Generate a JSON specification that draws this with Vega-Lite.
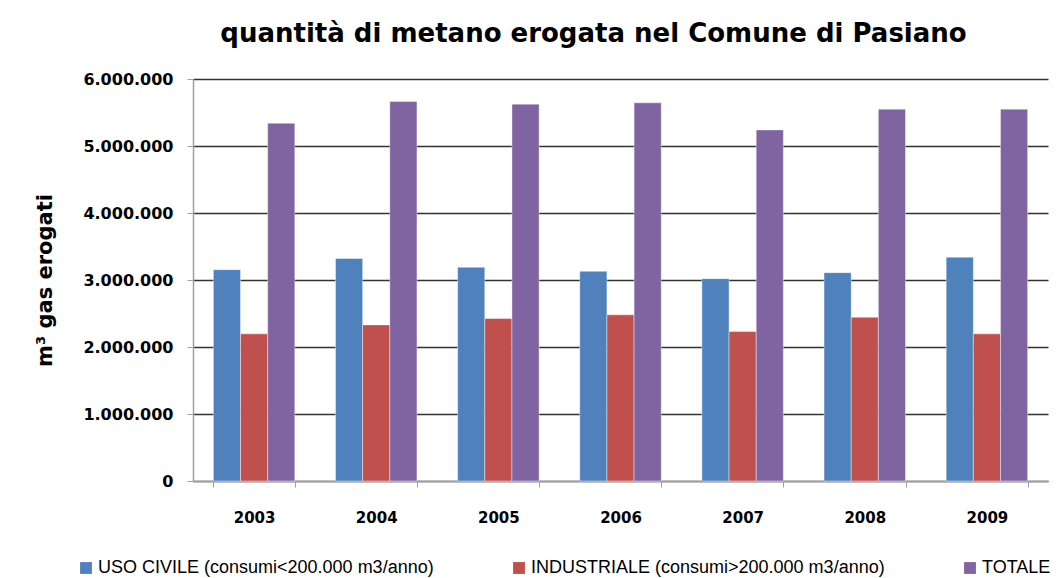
{
  "$schema": "https://vega.github.io/schema/vega-lite/v6.json",
  "width": 855,
  "height": 402,
  "autosize": {"type": "none"},
  "padding": {"left": 193, "top": 79, "right": 14, "bottom": 97},
  "background": "white",
  "title": {
    "text": "quantità di metano erogata nel Comune di Pasiano",
    "font": "DejaVu Sans",
    "fontSize": 26,
    "fontWeight": "bold",
    "color": "#000000",
    "anchor": "middle",
    "dx": -27,
    "offset": 24
  },
  "data": {
    "values": [
      {"anno": "2003", "serie": "USO CIVILE (consumi<200.000 m3/anno)", "valore": 3154000},
      {"anno": "2003", "serie": "INDUSTRIALE (consumi>200.000 m3/anno)", "valore": 2196000},
      {"anno": "2003", "serie": "TOTALE", "valore": 5340000},
      {"anno": "2004", "serie": "USO CIVILE (consumi<200.000 m3/anno)", "valore": 3320000},
      {"anno": "2004", "serie": "INDUSTRIALE (consumi>200.000 m3/anno)", "valore": 2330000},
      {"anno": "2004", "serie": "TOTALE", "valore": 5665000},
      {"anno": "2005", "serie": "USO CIVILE (consumi<200.000 m3/anno)", "valore": 3190000},
      {"anno": "2005", "serie": "INDUSTRIALE (consumi>200.000 m3/anno)", "valore": 2425000},
      {"anno": "2005", "serie": "TOTALE", "valore": 5625000},
      {"anno": "2006", "serie": "USO CIVILE (consumi<200.000 m3/anno)", "valore": 3130000},
      {"anno": "2006", "serie": "INDUSTRIALE (consumi>200.000 m3/anno)", "valore": 2480000},
      {"anno": "2006", "serie": "TOTALE", "valore": 5645000},
      {"anno": "2007", "serie": "USO CIVILE (consumi<200.000 m3/anno)", "valore": 3020000},
      {"anno": "2007", "serie": "INDUSTRIALE (consumi>200.000 m3/anno)", "valore": 2230000},
      {"anno": "2007", "serie": "TOTALE", "valore": 5240000},
      {"anno": "2008", "serie": "USO CIVILE (consumi<200.000 m3/anno)", "valore": 3110000},
      {"anno": "2008", "serie": "INDUSTRIALE (consumi>200.000 m3/anno)", "valore": 2445000},
      {"anno": "2008", "serie": "TOTALE", "valore": 5550000},
      {"anno": "2009", "serie": "USO CIVILE (consumi<200.000 m3/anno)", "valore": 3340000},
      {"anno": "2009", "serie": "INDUSTRIALE (consumi>200.000 m3/anno)", "valore": 2196000},
      {"anno": "2009", "serie": "TOTALE", "valore": 5550000}
    ]
  },
  "mark": {"type": "bar", "stroke": "#ffffff", "strokeWidth": 0.6, "strokeOpacity": 0.7},
  "encoding": {
    "x": {
      "field": "anno",
      "type": "nominal",
      "scale": {"paddingInner": 0.333, "paddingOuter": 0.1667},
      "axis": {
        "title": null,
        "labelAngle": 0,
        "labelFont": "DejaVu Sans",
        "labelFontSize": 15,
        "labelFontWeight": "bold",
        "labelColor": "#000000",
        "labelPadding": 23,
        "tickBand": "extent",
        "tickSize": 6,
        "tickColor": "#a0a0a0",
        "domainColor": "#a0a0a0",
        "domainWidth": 1.5,
        "grid": false
      }
    },
    "xOffset": {
      "field": "serie",
      "type": "nominal",
      "sort": ["USO CIVILE (consumi<200.000 m3/anno)", "INDUSTRIALE (consumi>200.000 m3/anno)", "TOTALE"],
      "scale": {"paddingInner": 0, "paddingOuter": 0}
    },
    "y": {
      "field": "valore",
      "type": "quantitative",
      "scale": {"domain": [0, 6000000], "nice": false},
      "axis": {
        "title": "m³ gas erogati",
        "titleFont": "DejaVu Sans",
        "titleFontSize": 21,
        "titleFontWeight": "bold",
        "titleColor": "#000000",
        "titlePadding": 27,
        "values": [0, 1000000, 2000000, 3000000, 4000000, 5000000, 6000000],
        "format": ",d",
        "labelFont": "DejaVu Sans",
        "labelFontSize": 16,
        "labelFontWeight": "bold",
        "labelColor": "#000000",
        "labelPadding": 14,
        "tickSize": 6,
        "tickColor": "#a0a0a0",
        "domainColor": "#a0a0a0",
        "domainWidth": 1.5,
        "grid": true,
        "gridColor": "#333333",
        "gridWidth": 1.3
      }
    },
    "color": {
      "field": "serie",
      "type": "nominal",
      "sort": ["USO CIVILE (consumi<200.000 m3/anno)", "INDUSTRIALE (consumi>200.000 m3/anno)", "TOTALE"],
      "scale": {
        "domain": ["USO CIVILE (consumi<200.000 m3/anno)", "INDUSTRIALE (consumi>200.000 m3/anno)", "TOTALE"],
        "range": ["#4F81BD", "#C0504D", "#8064A2"]
      },
      "legend": {
        "title": null,
        "orient": "none",
        "direction": "horizontal",
        "legendX": -116,
        "legendY": 480,
        "symbolType": "square",
        "symbolSize": 140,
        "symbolStrokeWidth": 0,
        "labelFont": "Liberation Sans Narrow, Liberation Sans",
        "labelFontSize": 18,
        "labelColor": "#000000",
        "labelLimit": 500,
        "columnPadding": 76,
        "labelOffset": 3
      }
    }
  },
  "config": {
    "locale": {
      "number": {"decimal": ",", "thousands": ".", "grouping": [3], "currency": ["€", ""]}
    },
    "view": {"stroke": null}
  }
}
